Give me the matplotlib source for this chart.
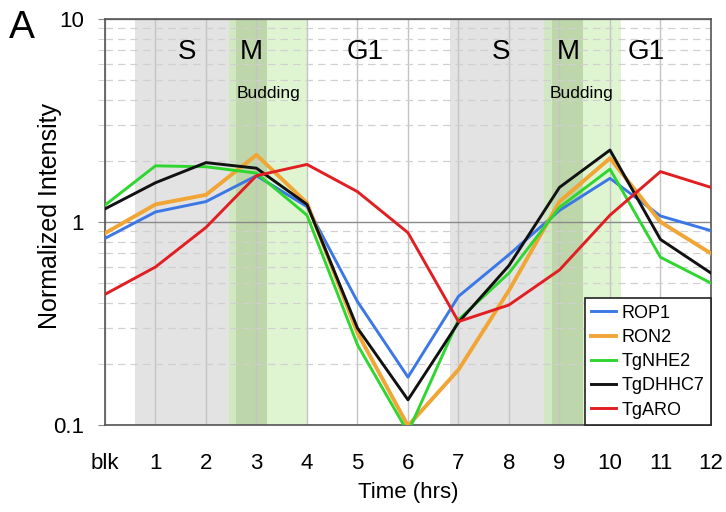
import matplotlib
matplotlib.use("Agg")
import matplotlib.pyplot as plt
from matplotlib.ticker import NullFormatter, LogLocator

plt.rcParams['font.family'] = ['Liberation Sans', 'DejaVu Sans']

x_labels = ['blk', '1', '2', '3', '4', '5', '6', '7', '8', '9', '10', '11', '12']
hours = list(range(13))

rop1 = [0.83, 1.12, 1.26, 1.69, 1.19, 0.405, 0.172, 0.43, 0.69, 1.14, 1.64, 1.07, 0.906]
ron2 = [0.88, 1.22, 1.36, 2.14, 1.24, 0.284, 0.099, 0.187, 0.46, 1.26, 2.06, 1.00, 0.70]
tgnhe2 = [1.21, 1.89, 1.87, 1.74, 1.08, 0.248, 0.092, 0.33, 0.56, 1.18, 1.82, 0.67, 0.50]
tgdhhc7 = [1.16, 1.56, 1.96, 1.84, 1.22, 0.30, 0.133, 0.32, 0.61, 1.48, 2.26, 0.82, 0.56]
tgaro = [0.44, 0.60, 0.94, 1.69, 1.92, 1.41, 0.885, 0.323, 0.39, 0.58, 1.08, 1.77, 1.48]

series = [
    ('ROP1', rop1, '#3b78e6', 2.1),
    ('RON2', ron2, '#f0a535', 2.8),
    ('TgNHE2', tgnhe2, '#2fd62f', 2.1),
    ('TgDHHC7', tgdhhc7, '#111111', 2.1),
    ('TgARO', tgaro, '#e11f23', 2.1),
]

fig = plt.figure(figsize=(7.26, 5.12), dpi=100)
ax = fig.add_axes([0.1446, 0.17, 0.9793 - 0.1446, 0.963 - 0.17])

# phase shading
for g0, m0, d0, d1, l1 in [(0.6, 2.45, 2.6, 3.2, 4.0), (6.83, 8.69, 8.85, 9.46, 10.22)]:
    ax.axvspan(g0, m0, color='#e3e3e3', lw=0, zorder=0.2)
    ax.axvspan(m0, d0, color='#d2e8c3', lw=0, zorder=0.2)
    ax.axvspan(d0, d1, color='#bdd6aa', lw=0, zorder=0.2)
    ax.axvspan(d1, l1, color='#dff5d2', lw=0, zorder=0.2)

for name, vals, col, lw in series:
    ax.plot(hours, vals, color=col, lw=lw, label=name, zorder=3)

ax.set_yscale('log')
ax.set_ylim(0.1, 10)
ax.set_xlim(0, 12)
ax.set_xticks(hours)
ax.set_xticklabels(x_labels)
ax.set_yticks([0.1, 1, 10])
ax.set_yticklabels(['0.1', '1', '10'])
ax.yaxis.set_minor_locator(LogLocator(base=10, subs=range(2, 10)))
ax.yaxis.set_minor_formatter(NullFormatter())

ax.set_axisbelow(True)
ax.grid(axis='x', which='major', color='#c4c4c4', lw=1.0, ls='-')
ax.grid(axis='y', which='major', color='#8a8a8a', lw=1.0, ls='-')
ax.grid(axis='y', which='minor', color='#d0d0d0', lw=0.9, ls=(0, (6, 4)))

ax.tick_params(axis='x', length=0, pad=20, labelsize=16)
ax.tick_params(axis='y', which='major', length=5, color='#888888', pad=10, labelsize=16)
ax.tick_params(axis='y', which='minor', length=5, color='#cccccc')

for s in ax.spines.values():
    s.set_color('#555555')
    s.set_linewidth(1.2)

ax.set_xlabel('Time (hrs)', fontsize=16, labelpad=6)
ax.set_ylabel('Normalized Intensity', fontsize=18, va='center', ha='center')
ax.yaxis.set_label_coords(-0.091, 0.515)

for txt, xpos in [('S', 1.63), ('M', 2.9), ('G1', 5.16), ('S', 7.84), ('M', 9.17), ('G1', 10.71)]:
    ax.text(xpos, 6.9, txt, fontsize=20, ha='center', va='center', zorder=4)
for xpos in [3.23, 9.44]:
    ax.text(xpos, 4.3, 'Budding', fontsize=12.5, ha='center', va='center', zorder=4)

fig.text(0.03, 0.945, 'A', fontsize=28, ha='center', va='center')

leg = ax.legend(loc='lower right', bbox_to_anchor=(1.0, 0.0), borderaxespad=0,
                fontsize=13, frameon=True, fancybox=False, framealpha=1,
                edgecolor='#222222', handlelength=1.4, handletextpad=0.3,
                labelspacing=0.4, borderpad=0.35)
leg.get_frame().set_linewidth(1.2)
leg.set_zorder(5)

fig.savefig('out.png', dpi=100)
